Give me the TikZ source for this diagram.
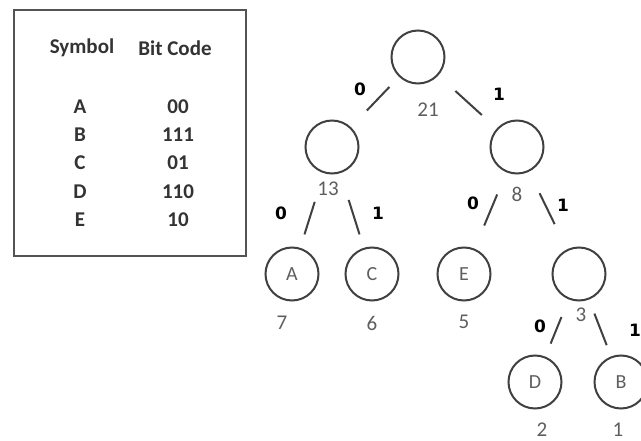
\documentclass[tikz,border=0pt]{standalone}
\usepackage{fontspec}
\setmainfont{Carlito}
\newfontfamily\bitfont{DejaVu Sans}
\usepackage{xcolor}
\usepackage{tikz}
\usetikzlibrary{positioning}
\definecolor{linegray}{HTML}{404040}
\definecolor{numgray}{HTML}{5E5E5E}

\tikzset{
	huff/.style={circle, draw=linegray, line width=2pt, minimum size=53pt, inner sep=0pt,
		text=numgray, font=\fontsize{20}{22}\selectfont},
	weight/.style={text=numgray, font=\fontsize{21}{23}\selectfont, inner sep=0pt},
	bit/.style={font=\bitfont\bfseries\fontsize{17}{20}\selectfont, inner sep=0pt},
	branch/.style={draw=linegray, line width=2pt},
	tabtext/.style={font=\bfseries\fontsize{21}{24}\selectfont, text=black!80, inner sep=0pt},
	tablebox/.style={draw=linegray!90, line width=2.2pt, minimum width=232pt, minimum height=246pt, inner sep=0pt},
}

\begin{document}
\begin{tikzpicture}[x=1pt, y=-1pt]
	\useasboundingbox (0,0) rectangle (641,441);

	% code table
	\node[tablebox] (table) at (130,133) {};
	\node[tabtext] (s0) at (82,48) {Symbol};
	\node[tabtext] (c0) at (175,48) {Bit Code};
	\node[tabtext] (s1) at (80,107) {A};
	\node[tabtext] (c1) at (178,107) {00};
	\node[tabtext] (s2) at (80,135) {B};
	\node[tabtext] (c2) at (178,135) {111};
	\node[tabtext] (s3) at (80,163) {C};
	\node[tabtext] (c3) at (178,163) {01};
	\node[tabtext] (s4) at (80,192) {D};
	\node[tabtext] (c4) at (178,192) {110};
	\node[tabtext] (s5) at (80,220) {E};
	\node[tabtext] (c5) at (178,220) {10};

	% tree
	\node[huff] (root) at (418,57) {};
	\node[huff] (n13) at (332,147) {};
	\node[huff] (n8) at (517,147) {};
	\node[huff] (nA) at (292,274) {A};
	\node[huff] (nC) at (372,274) {C};
	\node[huff] (nE) at (464,274) {E};
	\node[huff] (n3) at (579,274) {};
	\node[huff] (nD) at (535,382) {D};
	\node[huff] (nB) at (621,382) {B};

	% weights
	\node[weight] (w21) at (428,110) {21};
	\node[weight] (w13) at (328,189) {13};
	\node[weight] (w8) at (517,194) {8};
	\node[weight] (w7) at (282,323) {7};
	\node[weight] (w6) at (372,323) {6};
	\node[weight] (w5) at (464,322) {5};
	\node[weight] (w3) at (581,315) {3};
	\node[weight] (w2) at (542,430) {2};
	\node[weight] (w1) at (618,430) {1};

	% branches
	\draw[branch, shorten <=14pt, shorten >=23pt] (root) -- (n13);
	\draw[branch, shorten <=23pt, shorten >=20pt] (root) -- (n8);
	\draw[branch, shorten <=30pt, shorten >=14pt] (n13) -- (nA);
	\draw[branch, shorten <=28pt, shorten >=14pt] (n13) -- (nC);
	\draw[branch, shorten <=24pt, shorten >=25pt] (n8) -- (nE);
	\draw[branch, shorten <=24pt, shorten >=28pt] (n8) -- (n3);
	\draw[branch, shorten <=19pt, shorten >=14pt] (n3) -- (nD);
	\draw[branch, shorten <=15pt, shorten >=12pt] (n3) -- (nB);

	% bits
	\node[bit] (b1) at (360,89) {0};
	\node[bit] (b2) at (499,94) {1};
	\node[bit] (b3) at (281,213) {0};
	\node[bit] (b4) at (378,213) {1};
	\node[bit] (b5) at (473,203) {0};
	\node[bit] (b6) at (563,205) {1};
	\node[bit] (b7) at (540,326) {0};
	\node[bit] (b8) at (635,330) {1};
\end{tikzpicture}
\end{document}
